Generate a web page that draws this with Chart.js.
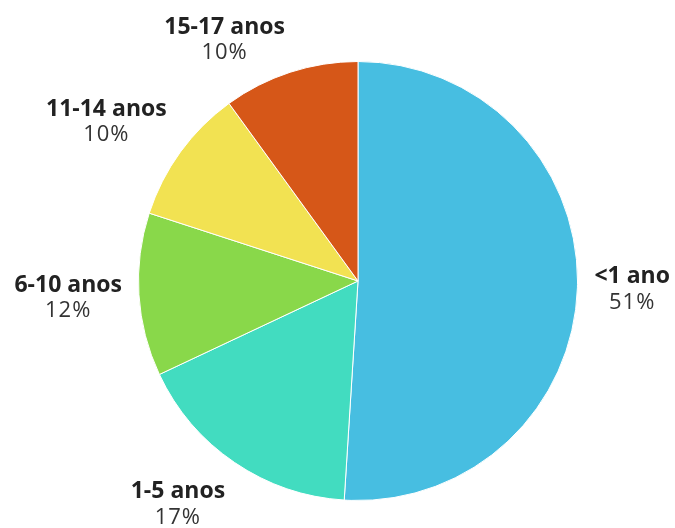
<!DOCTYPE html>
<html>
<head>
<meta charset="utf-8">
<script src="https://cdn.jsdelivr.net/npm/chart.js@4/dist/chart.umd.min.js"></script>
<style>
  html, body { margin: 0; padding: 0; background: #ffffff; }
  #wrap { width: 675px; height: 528px; position: relative; }
</style>
</head>
<body>
<div id="wrap"><canvas id="pie"></canvas></div>
<script>
// Faixas etárias e participação (%)
const categories = ['<1 ano', '1-5 anos', '6-10 anos', '11-14 anos', '15-17 anos'];
const shares = [51, 17, 12, 10, 10];
const sliceColors = ['#47BEE1', '#42DCC0', '#89D84A', '#F2E252', '#D65718'];

// Rótulos externos: nome em negrito e percentual abaixo
const outerLabels = {
  id: 'outerLabels',
  afterDatasetsDraw(chart) {
    const ctx = chart.ctx;
    const meta = chart.getDatasetMeta(0);
    const gap = 17;
    const lineH = 26;
    const topMargin = 14;
    const titleFont = 'bold 23px "Open Sans"';
    const valueFont = '22px "Open Sans"';
    ctx.save();
    ctx.textBaseline = 'middle';
    meta.data.forEach((arc, i) => {
      const p = arc.getProps(['x', 'y', 'startAngle', 'endAngle', 'outerRadius'], true);
      const mid = (p.startAngle + p.endAngle) / 2;
      const cos = Math.cos(mid), sin = Math.sin(mid);
      const ax = p.x + cos * (p.outerRadius + gap);
      const ay = p.y + sin * (p.outerRadius + gap);
      const title = categories[i];
      const value = shares[i] + '%';
      ctx.font = titleFont;
      ctx.letterSpacing = '0px';
      const w1 = ctx.measureText(title).width;
      ctx.font = valueFont;
      ctx.letterSpacing = '1px';
      const w2 = ctx.measureText(value).width;
      const w = Math.max(w1, w2);
      const h = lineH * 2;
      // left half: box ends at the anchor; right half: box starts there
      const cx = cos < 0 ? ax - w / 2 : ax + w / 2;
      let cy = ay + sin * h * 0.65;
      cy = Math.max(cy, topMargin + h / 2);
      ctx.textAlign = 'center';
      ctx.fillStyle = '#222222';
      ctx.font = titleFont;
      ctx.letterSpacing = '0px';
      ctx.fillText(title, cx, cy - lineH / 2);
      ctx.fillStyle = '#333333';
      ctx.font = valueFont;
      ctx.letterSpacing = '1px';
      ctx.fillText(value, cx, cy + lineH / 2);
    });
    ctx.restore();
  }
};

new Chart(document.getElementById('pie'), {
  type: 'pie',
  data: {
    labels: categories,
    datasets: [{
      data: shares,
      backgroundColor: sliceColors,
      borderColor: '#ffffff',
      borderWidth: 1
    }]
  },
  options: {
    responsive: true,
    maintainAspectRatio: false,
    animation: false,
    layout: { padding: { top: 61, bottom: 27, left: 41, right: 0 } },
    plugins: {
      legend: { display: false },
      tooltip: { enabled: false }
    }
  },
  plugins: [outerLabels]
});
</script>
</body>
</html>
